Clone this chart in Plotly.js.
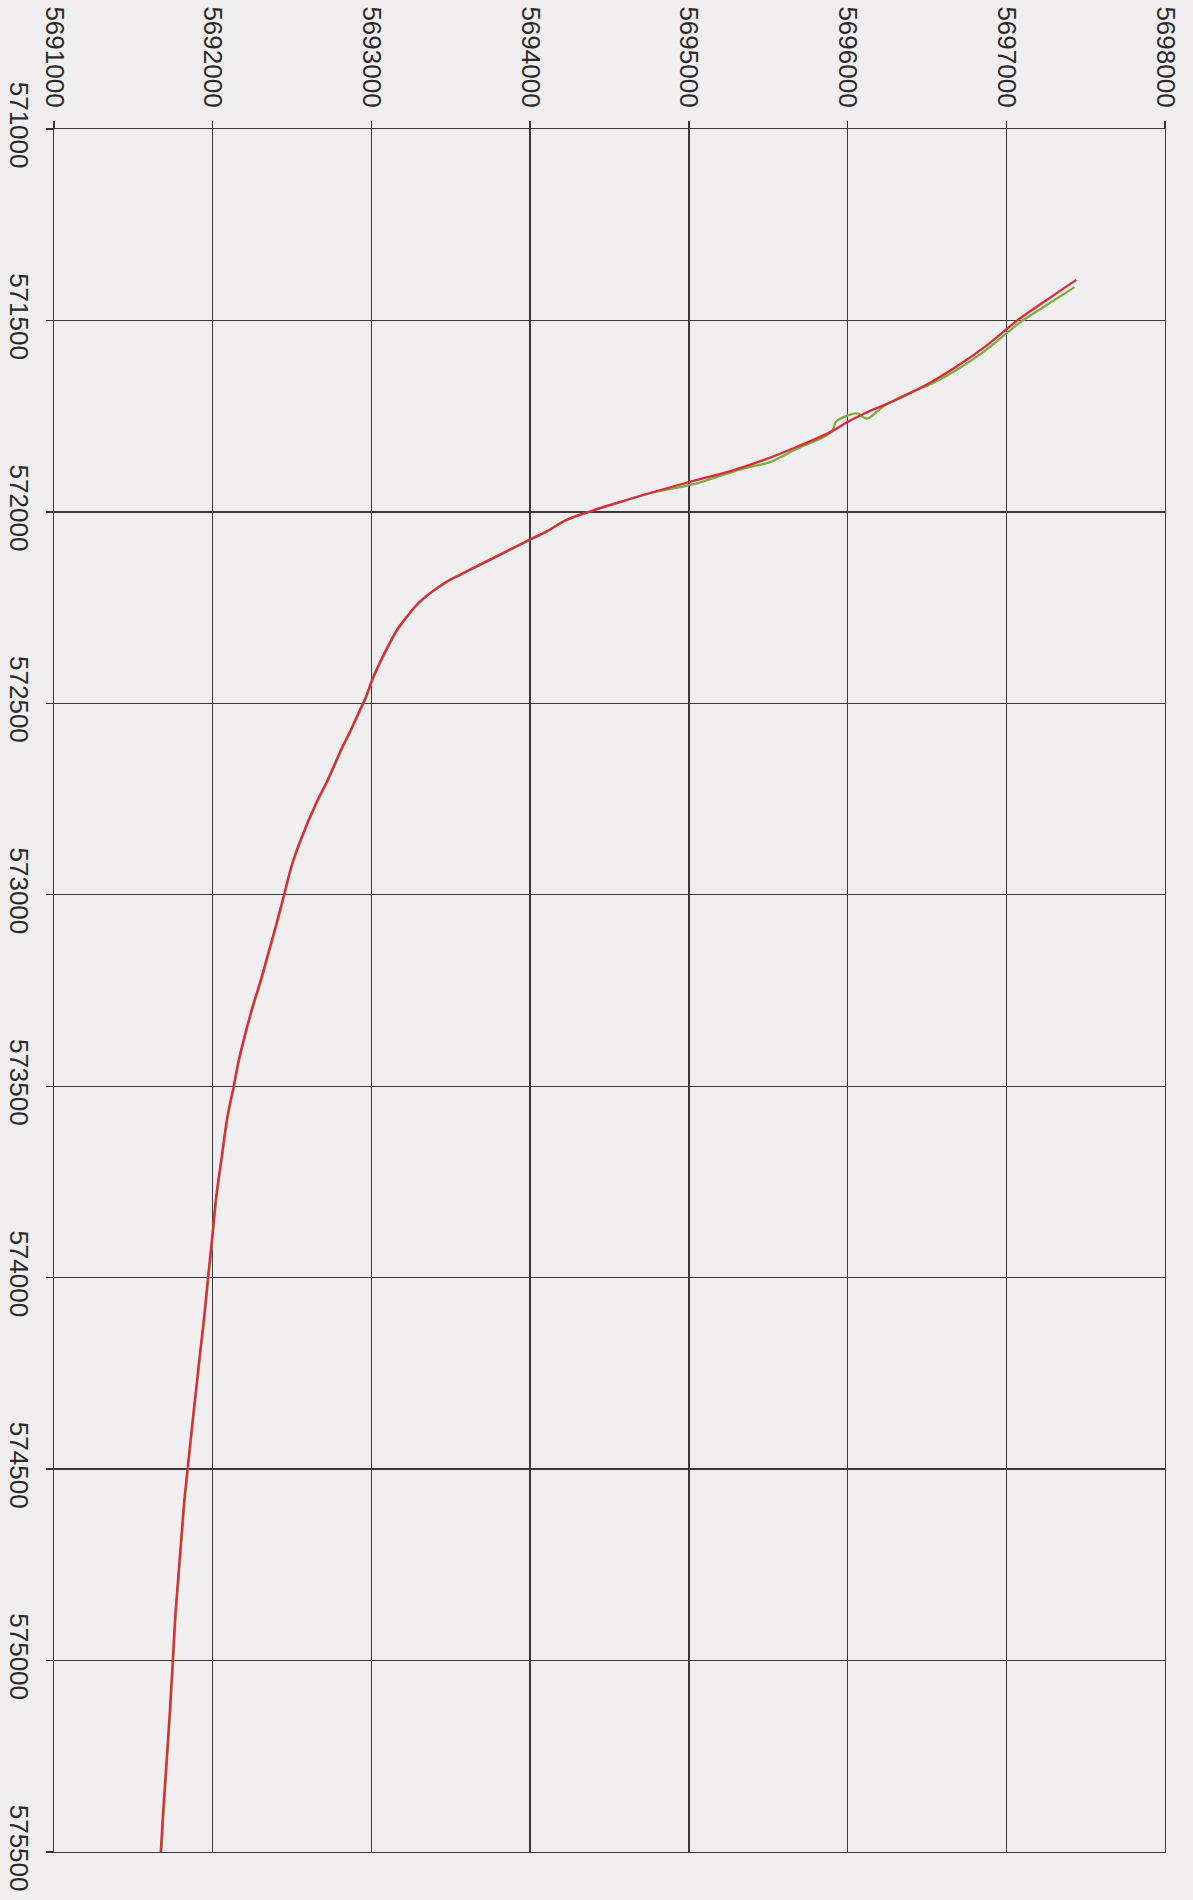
<!DOCTYPE html>
<html><head><meta charset="utf-8">
<script src="https://cdn.plot.ly/plotly-3.0.1.min.js"></script>
<style>html,body{margin:0;padding:0;background:#f0eeee}</style>
</head><body>
<div id="chart" style="width:1193px;height:1900px"></div>
<script>
// Axis ticks
const eastingTicks = [571000, 571500, 572000, 572500, 573000, 573500, 574000, 574500, 575000, 575500];
const eastingLabels = ["571000", "571500", "572000", "572500", "573000", "573500", "574000", "574500", "575000", "575500"];
const northingTicks = [5691000, 5692000, 5693000, 5694000, 5695000, 5696000, 5697000, 5698000];
const northingLabels = ["5691000", "5692000", "5693000", "5694000", "5695000", "5696000", "5697000", "5698000"];

// Red track (easting, northing), read along the path
const redEasting = [575518, 575410, 575280, 575149, 575000, 574889, 574785, 574689, 574585, 574500,
  574370, 574283, 574196, 574109, 574000, 573900, 573787, 573691, 573580, 573500,
  573439, 573377, 573298, 573228, 573149, 573070, 573000, 572921, 572851, 572763,
  572702, 572613, 572570, 572517, 572483, 572439, 572391, 572348, 572309, 572274,
  572243, 572213, 572183, 572161, 572139, 572109, 572074, 572052, 572022, 571997,
  571978, 571952, 571917, 571894, 571865, 571830, 571791, 571765, 571743, 571709,
  571670, 571617, 571561, 571500, 571448, 571394];
const redNorthing = [5691670, 5691685, 5691706, 5691727, 5691748, 5691763, 5691782, 5691800, 5691820, 5691841,
  5691874, 5691897, 5691920, 5691944, 5691970, 5691995, 5692022, 5692054, 5692092, 5692132,
  5692160, 5692196, 5692247, 5692299, 5692352, 5692405, 5692449, 5692499, 5692559, 5692649,
  5692722, 5692818, 5692869, 5692928, 5692965, 5693004, 5693056, 5693108, 5693160, 5693222,
  5693284, 5693367, 5693471, 5693574, 5693678, 5693823, 5693989, 5694100, 5694224, 5694391,
  5694537, 5694746, 5695046, 5695258, 5695470, 5695682, 5695894, 5696000, 5696106, 5696297,
  5696488, 5696699, 5696890, 5697070, 5697250, 5697441];

// Green track (easting, northing), read along the path
const greenEasting = [575515, 575410, 575280, 575149, 575000, 574889, 574785, 574689, 574585, 574500,
  574370, 574283, 574196, 574109, 574000, 573900, 573787, 573691, 573580, 573500,
  573439, 573377, 573298, 573228, 573149, 573070, 573000, 572921, 572851, 572763,
  572702, 572613, 572570, 572517, 572483, 572439, 572391, 572348, 572309, 572274,
  572243, 572213, 572183, 572161, 572139, 572109, 572074, 572052, 572022, 571997,
  571978, 571952, 571926, 571909, 571887, 571870, 571835, 571804, 571787, 571765,
  571752, 571743, 571752, 571756, 571722, 571687, 571665, 571626, 571578, 571550,
  571507, 571461, 571413];
const greenNorthing = [5691674, 5691689, 5691709, 5691730, 5691751, 5691766, 5691785, 5691803, 5691823, 5691844,
  5691877, 5691900, 5691923, 5691947, 5691973, 5691998, 5692025, 5692057, 5692095, 5692135,
  5692163, 5692199, 5692250, 5692302, 5692355, 5692408, 5692452, 5692502, 5692562, 5692652,
  5692725, 5692821, 5692872, 5692931, 5692968, 5693007, 5693059, 5693111, 5693163, 5693225,
  5693287, 5693370, 5693474, 5693577, 5693681, 5693826, 5693992, 5694103, 5694226, 5694393,
  5694539, 5694745, 5695046, 5695174, 5695343, 5695512, 5695682, 5695852, 5695905, 5695926,
  5695979, 5696064, 5696095, 5696127, 5696233, 5696403, 5696530, 5696699, 5696869, 5696954,
  5697081, 5697250, 5697430];

const tickFont = {family: "Liberation Sans, Arial, sans-serif", size: 26, color: "#2a2a2a"};

const traces = [
  {x: greenNorthing, y: greenEasting, type: "scatter", mode: "lines",
   line: {color: "#7dae3c", width: 2.3, shape: "spline", smoothing: 0.8}, hoverinfo: "skip", showlegend: false},
  {x: redNorthing, y: redEasting, type: "scatter", mode: "lines",
   line: {color: "#e0283f", width: 2.3, shape: "spline", smoothing: 1.1}, hoverinfo: "skip", showlegend: false}
];

const layout = {
  width: 1193, height: 1900,
  margin: {l: 54, r: 28, t: 129, b: 48, pad: 0},
  paper_bgcolor: "#f0eeee", plot_bgcolor: "#f0eeee",
  showlegend: false,
  xaxis: {
    side: "top", range: [5691000, 5698000],
    tickmode: "array", tickvals: northingTicks, ticktext: northingLabels,
    tickangle: 90, tickfont: tickFont,
    ticks: "outside", ticklen: 7, tickcolor: "#333", tickwidth: 1.3,
    showgrid: true, gridcolor: "#3a3a3a", gridwidth: 1.3,
    showline: true, linecolor: "#3a3a3a", linewidth: 1.3, mirror: true,
    zeroline: false, ticklabelstandoff: 4
  },
  yaxis: {
    range: [575500, 571000],
    tickmode: "array", tickvals: eastingTicks, ticktext: eastingLabels,
    tickangle: 90, tickfont: tickFont,
    ticks: "outside", ticklen: 7, tickcolor: "#333", tickwidth: 1.3,
    showgrid: true, gridcolor: "#3a3a3a", gridwidth: 1.3,
    showline: true, linecolor: "#3a3a3a", linewidth: 1.3, mirror: true,
    zeroline: false, ticklabelstandoff: 4
  }
};

Plotly.newPlot("chart", traces, layout, {staticPlot: true, displayModeBar: false});
</script>
</body></html>
